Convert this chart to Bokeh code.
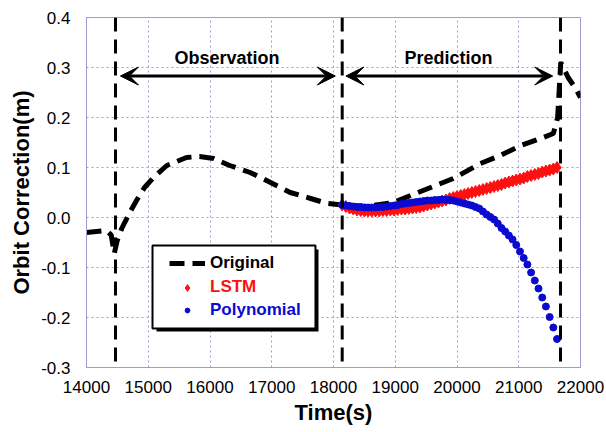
from bokeh.plotting import figure
from bokeh.models import (FixedTicker, PrintfTickFormatter, Span, Arrow, VeeHead,
                          Label, BoxAnnotation, Legend, LegendItem, ColumnDataSource)
from bokeh.embed import file_html
from bokeh.resources import INLINE

# ---------------- data ----------------
orig_t = [14000, 14320, 14400, 14450, 14500, 14570, 14700, 14810, 14940, 15085,
          15300, 15620, 15830, 16060, 16320, 16650, 16980, 17300, 17630, 17900,
          18140, 18500, 18970, 19410, 19940, 20380, 20700, 21030, 21350, 21560,
          21630, 21680, 21800, 21920, 22000]
orig_v = [-0.030, -0.026, -0.035, -0.072, -0.045, -0.022, 0.010, 0.034, 0.060, 0.080,
          0.104, 0.120, 0.122, 0.118, 0.104, 0.090, 0.070, 0.050, 0.038, 0.028,
          0.025, 0.022, 0.030, 0.052, 0.078, 0.108, 0.124, 0.144, 0.158, 0.168,
          0.200, 0.310, 0.280, 0.258, 0.240]

pred_t = list(range(18140, 21621, 60))
lstm_v = [0.025, 0.022, 0.019, 0.017, 0.015, 0.014, 0.013, 0.013, 0.013, 0.013,
          0.013, 0.014, 0.014, 0.015, 0.015, 0.016, 0.017, 0.017, 0.018, 0.019,
          0.020, 0.021, 0.023, 0.025, 0.027, 0.029, 0.031, 0.033, 0.035, 0.038,
          0.040, 0.042, 0.044, 0.046, 0.048, 0.050, 0.052, 0.054, 0.056, 0.058,
          0.060, 0.062, 0.064, 0.066, 0.069, 0.071, 0.073, 0.075, 0.077, 0.079,
          0.082, 0.084, 0.086, 0.088, 0.091, 0.093, 0.095, 0.097, 0.100]
poly_v = [0.025, 0.024, 0.023, 0.022, 0.021, 0.021, 0.020, 0.020, 0.020, 0.020,
          0.021, 0.021, 0.022, 0.023, 0.024, 0.025, 0.027, 0.028, 0.029, 0.030,
          0.031, 0.032, 0.033, 0.034, 0.034, 0.035, 0.035, 0.036, 0.035, 0.035,
          0.034, 0.032, 0.030, 0.028, 0.026, 0.024, 0.021, 0.018, 0.012, 0.006,
          0.001, -0.004, -0.012, -0.021, -0.028, -0.036, -0.044, -0.055, -0.068, -0.081,
          -0.094, -0.110, -0.126, -0.142, -0.160, -0.178, -0.199, -0.220, -0.243]

phase_bounds = [14470, 18141, 21676]
x_ticks = [14000, 15000, 16000, 17000, 18000, 19000, 20000, 21000, 22000]
y_ticks = [-0.3, -0.2, -0.1, 0.0, 0.1, 0.2, 0.3, 0.4]

FONT = "Liberation Sans"
GRID = "#9c9cd0"
RED = "#ff1010"
BLUE = "#0a0ad0"

p = figure(width=606, height=432, x_range=(14000, 22000), y_range=(-0.3, 0.4),
           output_backend="svg", toolbar_location=None,
           min_border_left=86, min_border_right=26, min_border_top=17, min_border_bottom=65,
           background_fill_color="white", border_fill_color="white")
p.outline_line_color = GRID
p.outline_line_width = 1

for ax in (p.xaxis[0], p.yaxis[0]):
    ax.axis_line_color = GRID
    ax.major_tick_line_color = None
    ax.minor_tick_line_color = None
    ax.major_label_text_font = FONT
    ax.major_label_text_font_size = "17px"
    ax.major_label_text_color = "black"
    ax.axis_label_text_font = FONT
    ax.axis_label_text_font_size = "22px"
    ax.axis_label_text_font_style = "bold"
    ax.axis_label_text_color = "black"

p.xaxis.ticker = FixedTicker(ticks=x_ticks)
p.yaxis.ticker = FixedTicker(ticks=y_ticks)
p.yaxis.formatter = PrintfTickFormatter(format="%.1f")
p.xaxis.axis_label = "Time(s)"
p.yaxis.axis_label = "Orbit Correction(m)"
p.xaxis.major_label_standoff = 7
p.yaxis.major_label_standoff = 10
p.xaxis.axis_label_standoff = 4
p.yaxis.axis_label_standoff = 4

for g in (p.xgrid[0], p.ygrid[0]):
    g.grid_line_color = GRID
    g.grid_line_dash = "2 3"
    g.grid_line_width = 1

# vertical phase boundaries
for loc in phase_bounds:
    p.add_layout(Span(location=loc, dimension="height", line_color="black",
                      line_width=3, line_dash="14 8"))

# data
r_orig = p.line(orig_t, orig_v, line_color="black", line_width=5, line_dash="15 8")
src_l = ColumnDataSource(dict(t=pred_t, v=lstm_v))
src_p = ColumnDataSource(dict(t=pred_t, v=poly_v))
r_lstm = p.scatter("t", "v", source=src_l, marker="diamond", size=12,
                   fill_color=RED, line_color=RED)
r_poly = p.scatter("t", "v", source=src_p, marker="circle", size=7,
                   fill_color=BLUE, line_color=BLUE)

# arrows and phase labels
arrow_y = 0.283
label_y = 0.32
for xs, xe in [(14550, 18030), (18200, 21550)]:
    p.add_layout(Arrow(start=VeeHead(size=18, fill_color="black", line_color="black"),
                       end=VeeHead(size=18, fill_color="black", line_color="black"),
                       x_start=xs, y_start=arrow_y, x_end=xe, y_end=arrow_y,
                       line_color="black", line_width=3))
for txt, xc in [("Observation", 16275), ("Prediction", 19862)]:
    p.add_layout(Label(x=xc, y=label_y, text=txt, text_align="center",
                       text_baseline="middle", text_font=FONT,
                       text_font_size="18px", text_font_style="bold",
                       text_color="black"))

# legend box with shadow
p.add_layout(BoxAnnotation(left=15134, right=17757, top=-0.064, bottom=-0.228,
                           fill_color="black", fill_alpha=1, line_alpha=0))
p.add_layout(BoxAnnotation(left=15069, right=17708, top=-0.056, bottom=-0.222,
                           fill_color="white", fill_alpha=1, line_color="black",
                           line_width=2, line_alpha=1))

for lab, rend, col, ly, gh in [("Original", r_orig, "black", 94, 20),
                               ("LSTM", r_lstm, RED, 70, 17),
                               ("Polynomial", r_poly, BLUE, 47, 12)]:
    leg = Legend(items=[LegendItem(label=lab, renderers=[rend])], location=(83, ly),
                 padding=0, margin=0, spacing=0, glyph_width=36, glyph_height=gh,
                 label_height=20, label_standoff=5, background_fill_alpha=0,
                 border_line_alpha=0, label_text_font=FONT,
                 label_text_font_style="bold", label_text_font_size="17px",
                 label_text_color=col)
    p.add_layout(leg, "center")

open("out.html", "w").write(file_html(p, INLINE))
